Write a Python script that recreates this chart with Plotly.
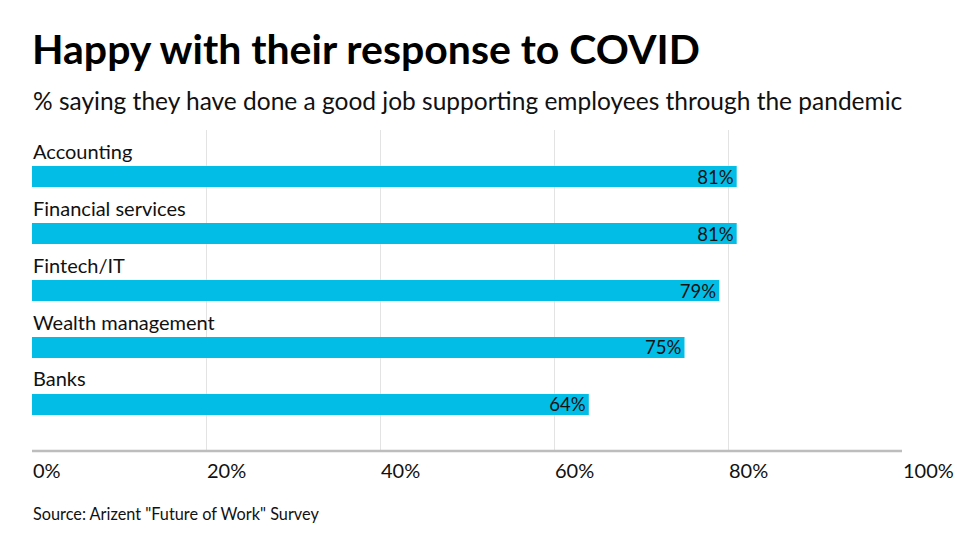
import plotly.graph_objects as go

categories = ["Accounting", "Financial services", "Fintech/IT", "Wealth management", "Banks"]
values = [81, 81, 79, 75, 64]
value_labels = ["81%", "81%", "79%", "75%", "64%"]
tick_values = [0, 20, 40, 60, 80, 100]
tick_labels = ["0%", "20%", "40%", "60%", "80%", "100%"]

title_text = "<b>Happy with their response to COVID</b>"
subtitle_text = "% saying they have done a good job supporting employees through the pandemic"
source_text = 'Source: Arizent "Future of Work" Survey'

# page body adds an 8px offset, so the figure is drawn 8px smaller
W, H = 970, 542
ML, MR, MT, MB = 24, 76, 122, 99
FONT = "Lato"
BAR_COLOR = "#02BDE5"
plot_h = H - MT - MB

fig = go.Figure()
fig.add_trace(go.Bar(
    x=values, y=categories, orientation="h",
    marker=dict(color=BAR_COLOR, line=dict(width=0)),
    width=0.37,
    text=value_labels, textposition="inside", insidetextanchor="end",
    textfont=dict(family=FONT, size=18.5, color="#111111"),
    constraintext="none", cliponaxis=False, hoverinfo="skip",
))

annotations = []
for c in categories:
    annotations.append(dict(
        x=0, y=c, xref="x", yref="y", text=c, showarrow=False,
        xanchor="left", yanchor="middle", yshift=26, xshift=-1,
        font=dict(family=FONT, size=20, color="#111111"),
    ))
for v, t in zip(tick_values, tick_labels):
    annotations.append(dict(
        x=v, y=0, xref="x", yref="paper", text=t, showarrow=False,
        xanchor="left", yanchor="middle", yshift=-19, xshift=-1,
        font=dict(family=FONT, size=20, color="#111111"),
    ))
annotations.append(dict(
    x=0, y=(H - MB - 92) / plot_h, xref="paper", yref="paper",
    text=subtitle_text, showarrow=False, xanchor="left", yanchor="middle",
    xshift=-1,
    font=dict(family=FONT, size=24.5, color="#111111"),
))
annotations.append(dict(
    x=0, y=0, xref="paper", yref="paper", text=source_text, showarrow=False,
    xanchor="left", yanchor="middle", yshift=-(505 - (H - MB)), xshift=-1,
    font=dict(family=FONT, size=16.3, color="#111111"),
))

fig.update_layout(
    width=W, height=H,
    margin=dict(l=ML, r=MR, t=MT, b=MB, pad=0),
    paper_bgcolor="white", plot_bgcolor="white",
    showlegend=False,
    title=dict(text=title_text, x=ML / W, xanchor="left", xref="container",
               y=1 - 42 / H, yanchor="middle", yref="container",
               font=dict(family=FONT, size=41, color="#000000")),
    font=dict(family=FONT),
    annotations=annotations,
    xaxis=dict(range=[0, 100], tickvals=tick_values, showticklabels=False,
               showgrid=True, gridcolor="#e3e3e3", gridwidth=1,
               zeroline=False, showline=False, ticks="", fixedrange=True),
    yaxis=dict(categoryorder="array", categoryarray=categories,
               range=[4.816, -0.816], showticklabels=False, showgrid=False,
               zeroline=False, showline=False, ticks="", fixedrange=True),
    bargap=0.6,
)
fig.add_shape(type="line", xref="paper", yref="paper", x0=0, x1=1, y0=0, y1=0,
              line=dict(color="#bdbdbd", width=2.5))

fig.write_html("out.html")
